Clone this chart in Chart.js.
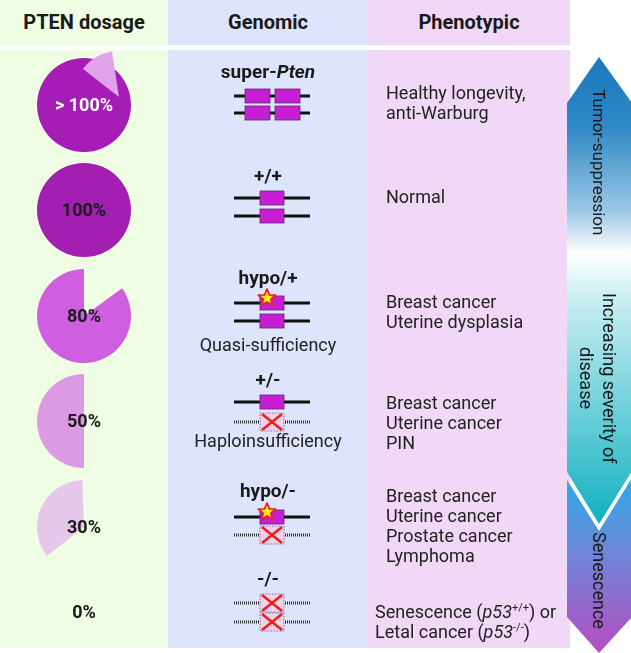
<!DOCTYPE html>
<html>
<head>
<meta charset="utf-8">
<script src="https://cdn.jsdelivr.net/npm/chart.js@4.4.0/dist/chart.umd.min.js"></script>
<style>
  body { margin: 0; background: #fff; font-family: Roboto, "DejaVu Sans", sans-serif; }
  #page { position: relative; width: 631px; height: 653px; overflow: hidden; }
  .bg { position: absolute; }
  .txt { position: absolute; white-space: nowrap; color: #1a1a1a; }
  .head { font-weight: bold; font-size: 20px; text-align: center; line-height: 24px; }
  canvas { position: absolute; }
  svg { position: absolute; left: 0; top: 0; }
  .vert { position: absolute; writing-mode: vertical-rl; font-size: 18px; line-height: 23px; color: #1a1a1a; text-align: center; white-space: nowrap; }
  sup { font-size: 11px; line-height: 0; }
</style>
</head>
<body>
<div id="page"></div>
<script>
// datos de la figura
const dosageLabels = ['> 100%', '100%', '80%', '50%', '30%', '0%'];
const pieShare = [100, 100, 85, 50, 35, 0];      // parte del círculo que se ve
const pieStart = [0, 0, 54, 180, -128, 0];       // giro en grados
const extraShare = 12;                            // cuña extra del > 100%
const extraStart = -52;

const genotypes = ['super-<i>Pten</i>', '+/+', 'hypo/+', '+/-', 'hypo/-', '-/-'];
const genoNotes = ['', '', 'Quasi-sufficiency', 'Haploinsufficiency', '', ''];
const alleles = [['PP', 'PP'], ['P', 'P'], ['H', 'P'], ['P', 'X'], ['H', 'X'], ['X', 'X']];

const phenotypes = [
  ['Healthy longevity,', 'anti-Warburg'],
  ['Normal'],
  ['Breast cancer', 'Uterine dysplasia'],
  ['Breast cancer', 'Uterine cancer', 'PIN'],
  ['Breast cancer', 'Uterine cancer', 'Prostate cancer', 'Lymphoma'],
  ['Senescence (<i>p53</i><sup>+/+</sup>) or', 'Letal cancer (<i>p53</i><sup>-/-</sup>)']
];

// colores y posiciones
const pieColors = ['#a51cb6', '#a21fb2', '#d05ee0', '#dc9ae5', '#e6c7ec', '#e6c7ec'];
const labelColors = ['#fff', '#1a1a1a', '#1a1a1a', '#1a1a1a', '#1a1a1a', '#1a1a1a'];
const pieY = [105, 210, 316, 421, 527, 612];
const genoY = [72, 176, 278, 380, 491, 579];
const lineY = [[96, 113], [198, 216], [303, 321], [402, 422], [517, 535], [603, 622]];
const noteY = [0, 0, 345, 441, 0, 0];
const phenoY = [93, 197, 302, 403, 496, 612];

const page = document.getElementById('page');

function addDiv(cls, left, top, w, h, style, html) {
  const d = document.createElement('div');
  d.className = cls;
  d.style.left = left + 'px';
  d.style.top = top + 'px';
  if (w) d.style.width = w + 'px';
  if (h) d.style.height = h + 'px';
  Object.assign(d.style, style || {});
  if (html) d.innerHTML = html;
  page.appendChild(d);
  return d;
}

// fondos de columnas
const cols = [[0, 168, '#eefde3'], [168, 200, '#dde4fb'], [368, 202, '#f0d8f6']];
cols.forEach(c => {
  addDiv('bg', c[0], 0, c[1], 45, { background: c[2] });
  addDiv('bg', c[0], 50, c[1], 598, { background: c[2] });
});
addDiv('txt head', 0, 10, 168, 0, {}, 'PTEN dosage');
addDiv('txt head', 168, 10, 200, 0, {}, 'Genomic');
addDiv('txt head', 368, 10, 202, 0, {}, 'Phenotypic');

// tartas de dosis
function makePie(cx, cy, r, share, start, color) {
  const cv = document.createElement('canvas');
  cv.width = r * 2; cv.height = r * 2;
  cv.style.left = (cx - r) + 'px';
  cv.style.top = (cy - r) + 'px';
  page.appendChild(cv);
  new Chart(cv, {
    type: 'pie',
    data: {
      labels: ['PTEN', 'lost'],
      datasets: [{
        data: [share, 100 - share],
        backgroundColor: [color, 'rgba(0,0,0,0)'],
        borderWidth: 0, hoverOffset: 0, offset: 0
      }]
    },
    options: {
      responsive: false, animation: false, events: [],
      rotation: start,
      layout: { padding: 0 },
      plugins: { legend: { display: false }, tooltip: { enabled: false } }
    }
  });
}

dosageLabels.forEach((lab, i) => {
  makePie(84, pieY[i], 47, pieShare[i], pieStart[i], pieColors[i]);
});
makePie(119, 97, 46, extraShare, extraStart, '#e0a2ea');

dosageLabels.forEach((lab, i) => {
  addDiv('txt', 0, pieY[i] - 12, 168, 0,
    { textAlign: 'center', fontWeight: 'bold', fontSize: '18px', lineHeight: '24px', color: labelColors[i] }, lab);
});

// dibujo genómico
const NS = 'http://www.w3.org/2000/svg';
const svg = document.createElementNS(NS, 'svg');
svg.setAttribute('width', 631);
svg.setAttribute('height', 653);
page.appendChild(svg);

function el(tag, attrs) {
  const e = document.createElementNS(NS, tag);
  for (const k in attrs) e.setAttribute(k, attrs[k]);
  svg.appendChild(e);
  return e;
}

function star(cx, cy) {
  let pts = [];
  for (let k = 0; k < 10; k++) {
    const r = k % 2 ? 4 : 9;
    const a = -Math.PI / 2 + k * Math.PI / 5;
    pts.push((cx + r * Math.cos(a)).toFixed(1) + ',' + (cy + r * Math.sin(a)).toFixed(1));
  }
  el('polygon', { points: pts.join(' '), fill: '#ffee10', stroke: '#e8202a', 'stroke-width': 1.8, 'stroke-linejoin': 'round' });
}

function allele(kind, y) {
  if (kind === 'X') {
    el('line', { x1: 234, y1: y, x2: 259, y2: y, stroke: '#333', 'stroke-width': 3, 'stroke-dasharray': '1 1' });
    el('line', { x1: 285, y1: y, x2: 310, y2: y, stroke: '#333', 'stroke-width': 3, 'stroke-dasharray': '1 1' });
    el('rect', { x: 260, y: y - 9, width: 24, height: 18, fill: '#f2d2ea', stroke: '#6a4a88', 'stroke-width': 0.8, 'stroke-dasharray': '1.5 1.5' });
    el('line', { x1: 262, y1: y - 8, x2: 282, y2: y + 8, stroke: '#e82020', 'stroke-width': 2.6 });
    el('line', { x1: 282, y1: y - 8, x2: 262, y2: y + 8, stroke: '#e82020', 'stroke-width': 2.6 });
    return;
  }
  el('line', { x1: 234, y1: y, x2: 310, y2: y, stroke: '#111', 'stroke-width': 3 });
  const boxes = kind === 'PP' ? [245, 275] : [260];
  const bw = kind === 'PP' ? 25 : 24;
  boxes.forEach(bx => {
    el('rect', { x: bx, y: y - 7, width: bw, height: 14, fill: '#c81ed6', stroke: '#5a2a6a', 'stroke-width': 0.8 });
  });
  if (kind === 'H') star(267, y - 5);
}

alleles.forEach((pair, i) => {
  allele(pair[0], lineY[i][0]);
  allele(pair[1], lineY[i][1]);
  addDiv('txt', 168, genoY[i] - 12, 200, 0,
    { textAlign: 'center', fontWeight: 'bold', fontSize: '19px', lineHeight: '24px' }, genotypes[i]);
  if (genoNotes[i]) {
    addDiv('txt', 168, noteY[i] - 12, 200, 0,
      { textAlign: 'center', fontSize: '18px', lineHeight: '24px', color: '#222' }, genoNotes[i]);
  }
});

// fenotipos
phenotypes.forEach((lines, i) => {
  const left = i === 5 ? 375 : 386;
  addDiv('txt', left, phenoY[i] - 10, 0, 0,
    { fontSize: '18px', lineHeight: '20px', color: '#222' }, lines.join('<br>'));
});

// flecha lateral
const defs = el('defs', {});
function grad(id, stops) {
  const g = document.createElementNS(NS, 'linearGradient');
  g.setAttribute('id', id);
  g.setAttribute('x1', 0); g.setAttribute('y1', 0); g.setAttribute('x2', 0); g.setAttribute('y2', 1);
  stops.forEach(s => {
    const st = document.createElementNS(NS, 'stop');
    st.setAttribute('offset', s[0]);
    st.setAttribute('stop-color', s[1]);
    g.appendChild(st);
  });
  defs.appendChild(g);
}
grad('g1', [[0, '#1a78bd'], [0.15, '#3088c4'], [0.33, '#9cc8e6'], [0.42, '#ffffff'], [0.52, '#c8eef2'], [1, '#10b0bf']]);
grad('g2', [[0, '#2ea8ea'], [0.4, '#6a8ad8'], [1, '#b64cc0']]);
el('polygon', { points: '599,57 632,103 632,471 599,524 567,472 567,103', fill: 'url(#g1)' });
el('polygon', { points: '567,480 599,531 632,478 632,617 599,653 567,617', fill: 'url(#g2)' });

addDiv('vert', 586, 162 - 80, 26, 160, { lineHeight: '26px', fontSize: '17px' }, 'Tumor-suppression');
addDiv('vert', 573, 378 - 105, 48, 210, {}, 'Increasing severity of<br>disease');
addDiv('vert', 586, 580 - 55, 26, 110, { lineHeight: '26px' }, 'Senescence');
</script>
</body>
</html>
